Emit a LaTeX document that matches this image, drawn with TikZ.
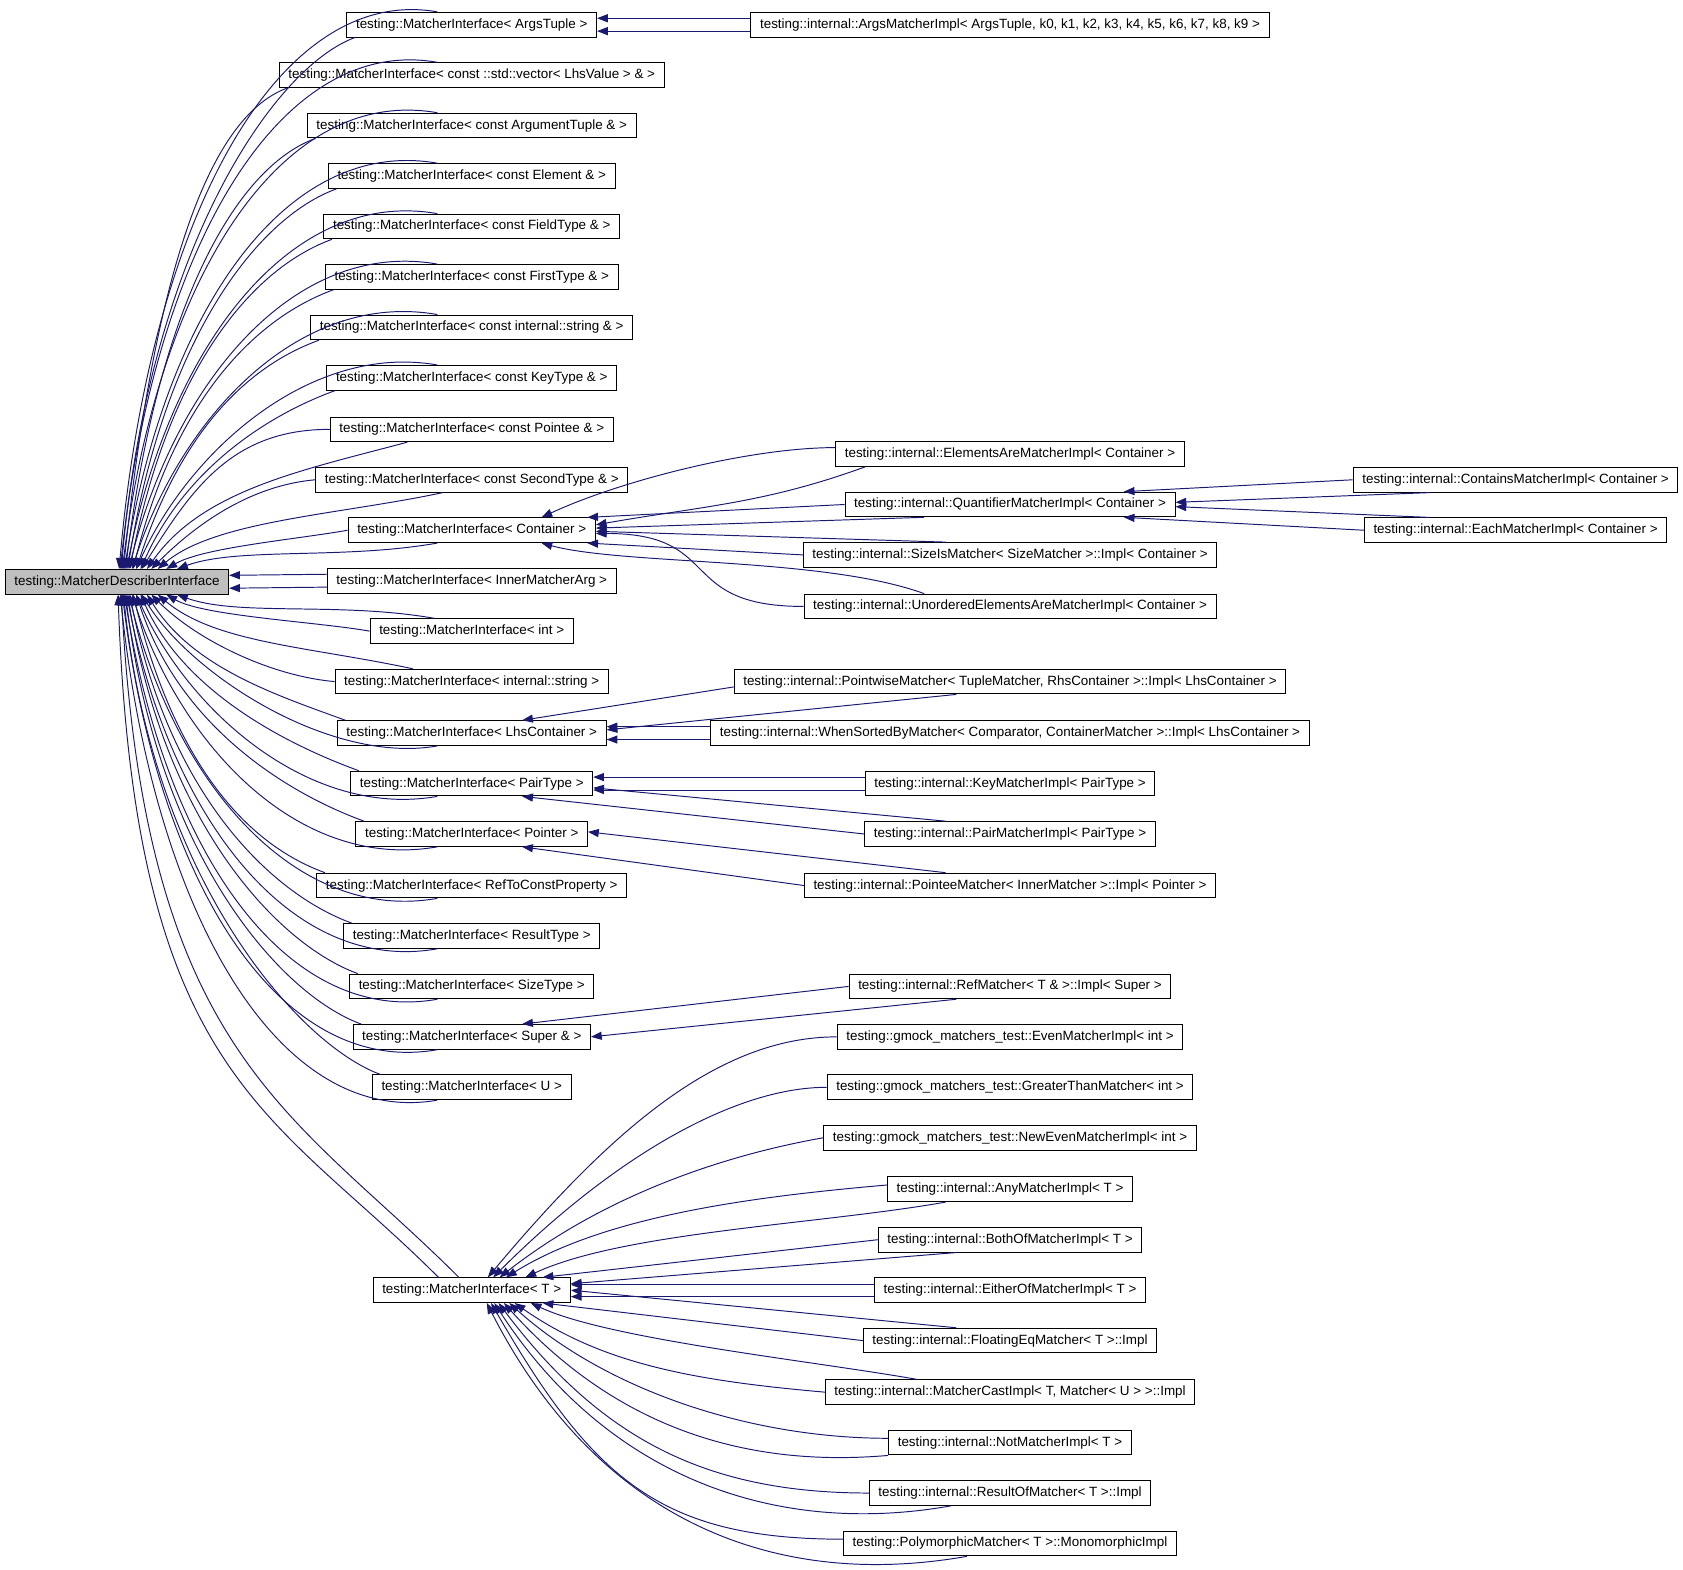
\documentclass[tikz,border=0pt]{standalone}
\usepackage{fontspec}
\setmainfont{Liberation Sans}
\usetikzlibrary{arrows.meta}
\definecolor{edgeblue}{RGB}{25,25,112}
\definecolor{basegray}{RGB}{191,191,191}

\begin{document}
\begin{tikzpicture}[
  x = 1pt, y = -1pt,
  cls/.style = {
    shape = rectangle,
    draw = black,
    line width = 0.9pt,
    fill = white,
    minimum height = 23pt,
    inner xsep = 8.5pt,
    inner ysep = 2pt,
    text height = 9pt,
    text depth = 2.5pt,
    font = \fontsize{12.5pt}{15pt}\selectfont
  },
  base/.style = {
    cls,
    fill = basegray
  },
  inh/.style = {
    draw = edgeblue,
    line width = 0.9pt,
    -{Triangle[length = 10pt, width = 7.5pt]}
  }
]
  \useasboundingbox (0, 0) rectangle (1568, 1462);

  \node[base] (describer) at (109, 542) {testing::MatcherDescriberInterface};

  % interfaces
  \node[cls] (argstuple) at (439.5, 23) {testing::MatcherInterface< ArgsTuple >};
  \node[cls] (vectorlhs) at (439.5, 70) {testing::MatcherInterface< const ::std::vector< LhsValue > \& >};
  \node[cls] (argtuple) at (439.5, 117) {testing::MatcherInterface< const ArgumentTuple \& >};
  \node[cls] (element) at (439.5, 164) {testing::MatcherInterface< const Element \& >};
  \node[cls] (fieldtype) at (439.5, 211) {testing::MatcherInterface< const FieldType \& >};
  \node[cls] (firsttype) at (439.5, 258) {testing::MatcherInterface< const FirstType \& >};
  \node[cls] (cstring) at (439.5, 305) {testing::MatcherInterface< const internal::string \& >};
  \node[cls] (keytype) at (439.5, 352) {testing::MatcherInterface< const KeyType \& >};
  \node[cls] (pointee) at (439.5, 400) {testing::MatcherInterface< const Pointee \& >};
  \node[cls] (secondtype) at (439.5, 447) {testing::MatcherInterface< const SecondType \& >};
  \node[cls] (container) at (439.5, 494) {testing::MatcherInterface< Container >};
  \node[cls] (innerarg) at (439.5, 541) {testing::MatcherInterface< InnerMatcherArg >};
  \node[cls] (intiface) at (439.5, 588) {testing::MatcherInterface< int >};
  \node[cls] (string) at (439.5, 635) {testing::MatcherInterface< internal::string >};
  \node[cls] (lhscont) at (439.5, 683) {testing::MatcherInterface< LhsContainer >};
  \node[cls] (pairtype) at (439.5, 730) {testing::MatcherInterface< PairType >};
  \node[cls] (pointer) at (439.5, 777) {testing::MatcherInterface< Pointer >};
  \node[cls] (refprop) at (439.5, 825) {testing::MatcherInterface< RefToConstProperty >};
  \node[cls] (resulttype) at (439.5, 872) {testing::MatcherInterface< ResultType >};
  \node[cls] (sizetype) at (439.5, 919) {testing::MatcherInterface< SizeType >};
  \node[cls] (super) at (439.5, 966) {testing::MatcherInterface< Super \& >};
  \node[cls] (uiface) at (439.5, 1013) {testing::MatcherInterface< U >};
  \node[cls] (tiface) at (439.5, 1202) {testing::MatcherInterface< T >};

  % implementations
  \node[cls] (argsimpl) at (941, 23) {testing::internal::ArgsMatcherImpl< ArgsTuple, k0, k1, k2, k3, k4, k5, k6, k7, k8, k9 >};
  \node[cls] (elemsare) at (941, 423) {testing::internal::ElementsAreMatcherImpl< Container >};
  \node[cls] (quantifier) at (941, 470) {testing::internal::QuantifierMatcherImpl< Container >};
  \node[cls] (sizeis) at (941, 517) {testing::internal::SizeIsMatcher< SizeMatcher >::Impl< Container >};
  \node[cls] (unordered) at (941, 565) {testing::internal::UnorderedElementsAreMatcherImpl< Container >};
  \node[cls] (pointwise) at (941, 635) {testing::internal::PointwiseMatcher< TupleMatcher, RhsContainer >::Impl< LhsContainer >};
  \node[cls] (whensorted) at (941, 683) {testing::internal::WhenSortedByMatcher< Comparator, ContainerMatcher >::Impl< LhsContainer >};
  \node[cls] (keyimpl) at (941, 730) {testing::internal::KeyMatcherImpl< PairType >};
  \node[cls] (pairimpl) at (941, 777) {testing::internal::PairMatcherImpl< PairType >};
  \node[cls] (pointeeimpl) at (941, 825) {testing::internal::PointeeMatcher< InnerMatcher >::Impl< Pointer >};
  \node[cls] (refmatcher) at (941, 919) {testing::internal::RefMatcher< T \& >::Impl< Super >};
  \node[cls] (evenimpl) at (941, 966) {testing::gmock\_matchers\_test::EvenMatcherImpl< int >};
  \node[cls] (greater) at (941, 1013) {testing::gmock\_matchers\_test::GreaterThanMatcher< int >};
  \node[cls] (neweven) at (941, 1060) {testing::gmock\_matchers\_test::NewEvenMatcherImpl< int >};
  \node[cls] (anyimpl) at (941, 1108) {testing::internal::AnyMatcherImpl< T >};
  \node[cls] (bothof) at (941, 1155) {testing::internal::BothOfMatcherImpl< T >};
  \node[cls] (eitherof) at (941, 1202) {testing::internal::EitherOfMatcherImpl< T >};
  \node[cls] (floateq) at (941, 1249) {testing::internal::FloatingEqMatcher< T >::Impl};
  \node[cls] (castimpl) at (941, 1297) {testing::internal::MatcherCastImpl< T, Matcher< U > >::Impl};
  \node[cls] (notimpl) at (941, 1344) {testing::internal::NotMatcherImpl< T >};
  \node[cls] (resultof) at (941, 1391) {testing::internal::ResultOfMatcher< T >::Impl};
  \node[cls] (monoimpl) at (941, 1438) {testing::PolymorphicMatcher< T >::MonomorphicImpl};
  \node[cls] (containsimpl) at (1412, 447) {testing::internal::ContainsMatcherImpl< Container >};
  \node[cls] (eachimpl) at (1412, 494) {testing::internal::EachMatcherImpl< Container >};

  % interfaces -> describer, above
  \draw[inh] ([xshift=-32pt]argstuple.north) to[out=170, in=85, out distance=150pt, in distance=330pt] ([xshift=2pt]describer.north);
  \draw[inh] ([xshift=8pt]argstuple.south west) to[out=200, in=85, out distance=80pt, in distance=300pt] ([xshift=4pt]describer.north);
  \draw[inh] ([xshift=-32pt]vectorlhs.north) to[out=170, in=84, out distance=150pt, in distance=300pt] ([xshift=3pt]describer.north);
  \draw[inh] ([xshift=8pt]vectorlhs.south west) to[out=200, in=84, out distance=80pt, in distance=270pt] ([xshift=6pt]describer.north);
  \draw[inh] ([xshift=-32pt]argtuple.north) to[out=170, in=83, out distance=150pt, in distance=270pt] ([xshift=5pt]describer.north);
  \draw[inh] ([xshift=8pt]argtuple.south west) to[out=200, in=83, out distance=80pt, in distance=245pt] ([xshift=8pt]describer.north);
  \draw[inh] ([xshift=-32pt]element.north) to[out=170, in=81, out distance=145pt, in distance=240pt] ([xshift=7pt]describer.north);
  \draw[inh] ([xshift=8pt]element.south west) to[out=200, in=81, out distance=80pt, in distance=215pt] ([xshift=10pt]describer.north);
  \draw[inh] ([xshift=-32pt]fieldtype.north) to[out=170, in=79, out distance=140pt, in distance=210pt] ([xshift=9pt]describer.north);
  \draw[inh] ([xshift=8pt]fieldtype.south west) to[out=200, in=79, out distance=80pt, in distance=190pt] ([xshift=12pt]describer.north);
  \draw[inh] ([xshift=-32pt]firsttype.north) to[out=170, in=76, out distance=135pt, in distance=180pt] ([xshift=11pt]describer.north);
  \draw[inh] ([xshift=8pt]firsttype.south west) to[out=200, in=76, out distance=80pt, in distance=160pt] ([xshift=15pt]describer.north);
  \draw[inh] ([xshift=-32pt]cstring.north) to[out=170, in=72, out distance=130pt, in distance=150pt] ([xshift=14pt]describer.north);
  \draw[inh] ([xshift=8pt]cstring.south west) to[out=200, in=72, out distance=75pt, in distance=130pt] ([xshift=18pt]describer.north);
  \draw[inh] ([xshift=-32pt]keytype.north) to[out=170, in=66, out distance=120pt, in distance=120pt] ([xshift=18pt]describer.north);
  \draw[inh] ([xshift=8pt]keytype.south west) to[out=200, in=66, out distance=70pt, in distance=100pt] ([xshift=22pt]describer.north);
  \draw[inh] (pointee.west) to[out=180, in=58, out distance=90pt, in distance=90pt] ([xshift=23pt]describer.north);
  \draw[inh] ([xshift=-60pt]pointee.south) to[out=195, in=55, out distance=100pt, in distance=90pt] ([xshift=28pt]describer.north);
  \draw[inh] (secondtype.west) to[out=185, in=45, out distance=60pt, in distance=60pt] ([xshift=32pt]describer.north);
  \draw[inh] ([xshift=-27pt]secondtype.south) to[out=192, in=40, out distance=100pt, in distance=70pt] ([xshift=38pt]describer.north);
  \draw[inh] (container.west) to[out=190, in=30, out distance=50pt, in distance=40pt] ([xshift=46pt]describer.north);
  \draw[inh] ([xshift=-32pt]container.south) to[out=190, in=20, out distance=90pt, in distance=60pt] ([xshift=56pt]describer.north);
  \draw[inh] ([yshift=6pt]innerarg.west) -- ([yshift=6pt]describer.east);
  \draw[inh] ([yshift=-6pt]innerarg.west) -- ([yshift=-6pt]describer.east);

  % interfaces -> describer, below
  \draw[inh] (intiface.west) to[out=170, in=-30, out distance=50pt, in distance=40pt] ([xshift=46pt]describer.south);
  \draw[inh] ([xshift=-35pt]intiface.north) to[out=170, in=-20, out distance=90pt, in distance=60pt] ([xshift=56pt]describer.south);
  \draw[inh] (string.west) to[out=175, in=-45, out distance=60pt, in distance=60pt] ([xshift=32pt]describer.south);
  \draw[inh] ([xshift=-55pt]string.north) to[out=168, in=-40, out distance=100pt, in distance=70pt] ([xshift=38pt]describer.south);
  \draw[inh] ([xshift=-32pt]lhscont.south) to[out=190, in=-58, out distance=100pt, in distance=90pt] ([xshift=23pt]describer.south);
  \draw[inh] ([xshift=8pt]lhscont.north west) to[out=160, in=-58, out distance=70pt, in distance=80pt] ([xshift=28pt]describer.south);
  \draw[inh] ([xshift=-32pt]pairtype.south) to[out=190, in=-66, out distance=120pt, in distance=120pt] ([xshift=18pt]describer.south);
  \draw[inh] ([xshift=8pt]pairtype.north west) to[out=160, in=-66, out distance=70pt, in distance=100pt] ([xshift=22pt]describer.south);
  \draw[inh] ([xshift=-32pt]pointer.south) to[out=190, in=-72, out distance=130pt, in distance=150pt] ([xshift=14pt]describer.south);
  \draw[inh] ([xshift=8pt]pointer.north west) to[out=160, in=-72, out distance=75pt, in distance=130pt] ([xshift=18pt]describer.south);
  \draw[inh] ([xshift=-32pt]refprop.south) to[out=190, in=-76, out distance=135pt, in distance=180pt] ([xshift=11pt]describer.south);
  \draw[inh] ([xshift=8pt]refprop.north west) to[out=160, in=-76, out distance=80pt, in distance=160pt] ([xshift=15pt]describer.south);
  \draw[inh] ([xshift=-32pt]resulttype.south) to[out=190, in=-79, out distance=140pt, in distance=210pt] ([xshift=9pt]describer.south);
  \draw[inh] ([xshift=8pt]resulttype.north west) to[out=160, in=-79, out distance=80pt, in distance=190pt] ([xshift=12pt]describer.south);
  \draw[inh] ([xshift=-32pt]sizetype.south) to[out=190, in=-81, out distance=145pt, in distance=240pt] ([xshift=7pt]describer.south);
  \draw[inh] ([xshift=8pt]sizetype.north west) to[out=160, in=-81, out distance=80pt, in distance=215pt] ([xshift=10pt]describer.south);
  \draw[inh] ([xshift=-32pt]super.south) to[out=190, in=-83, out distance=150pt, in distance=270pt] ([xshift=5pt]describer.south);
  \draw[inh] ([xshift=8pt]super.north west) to[out=160, in=-83, out distance=80pt, in distance=245pt] ([xshift=8pt]describer.south);
  \draw[inh] ([xshift=-32pt]uiface.south) to[out=190, in=-84, out distance=150pt, in distance=300pt] ([xshift=3pt]describer.south);
  \draw[inh] ([xshift=8pt]uiface.north west) to[out=160, in=-84, out distance=80pt, in distance=270pt] ([xshift=6pt]describer.south);
  \draw[inh] ([xshift=-31pt]tiface.north) to[out=135, in=-88, out distance=220pt, in distance=450pt] ([xshift=1pt]describer.south);
  \draw[inh] ([xshift=-12pt]tiface.north) to[out=135, in=-87, out distance=220pt, in distance=430pt] ([xshift=4pt]describer.south);

  % implementations -> interfaces
  \draw[inh] ([yshift=6pt]argsimpl.west) -- ([yshift=6pt]argstuple.east);
  \draw[inh] ([yshift=-6pt]argsimpl.west) -- ([yshift=-6pt]argstuple.east);

  \draw[inh] ([yshift=6pt]elemsare.west) to[out=180, in=25, out distance=80pt, in distance=80pt] ([xshift=65pt]container.north);
  \draw[inh] ([xshift=-135pt]elemsare.south) to[out=200, in=10, out distance=100pt, in distance=100pt] ([yshift=5pt]container.east);
  \draw[inh] (quantifier.west) -- ([xshift=-8pt]container.north east);
  \draw[inh] ([xshift=-80pt]quantifier.south) -- ([yshift=2pt]container.east);
  \draw[inh] ([xshift=-60pt]sizeis.north) -- ([yshift=-1pt]container.east);
  \draw[inh] (sizeis.west) -- ([xshift=-8pt]container.south east);
  \draw[inh] (unordered.west) to[out=180, in=0, out distance=120pt, in distance=120pt] ([yshift=-3pt]container.east);
  \draw[inh] ([xshift=-80pt]unordered.north) to[out=160, in=-15, out distance=100pt, in distance=80pt] ([xshift=65pt]container.south);

  \draw[inh] (containsimpl.west) -- ([xshift=106pt]quantifier.north);
  \draw[inh] ([xshift=-80pt]containsimpl.south) -- ([yshift=2pt]quantifier.east);
  \draw[inh] ([xshift=-80pt]eachimpl.north) -- ([yshift=-2pt]quantifier.east);
  \draw[inh] (eachimpl.west) -- ([xshift=106pt]quantifier.south);

  \draw[inh] ([yshift=-5pt]pointwise.west) -- ([xshift=47pt]lhscont.north);
  \draw[inh] ([xshift=-50pt]pointwise.south) -- ([yshift=3pt]lhscont.east);
  \draw[inh] ([yshift=6pt]whensorted.west) -- ([yshift=6pt]lhscont.east);
  \draw[inh] ([yshift=-6pt]whensorted.west) -- ([yshift=-6pt]lhscont.east);

  \draw[inh] ([yshift=6pt]keyimpl.west) -- ([yshift=6pt]pairtype.east);
  \draw[inh] ([yshift=-6pt]keyimpl.west) -- ([yshift=-6pt]pairtype.east);
  \draw[inh] ([xshift=-60pt]pairimpl.north) -- ([yshift=-4pt]pairtype.east);
  \draw[inh] (pairimpl.west) -- ([xshift=47pt]pairtype.south);

  \draw[inh] ([xshift=-60pt]pointeeimpl.north) -- ([yshift=2pt]pointer.east);
  \draw[inh] (pointeeimpl.west) -- ([xshift=47pt]pointer.south);

  \draw[inh] (refmatcher.west) -- ([xshift=47pt]super.north);
  \draw[inh] ([xshift=-50pt]refmatcher.south) -- (super.east);

  % implementations -> T
  \draw[inh] (evenimpl.west) to[out=180, in=50, out distance=110pt, in distance=180pt] ([xshift=15pt]tiface.north);
  \draw[inh] (greater.west) to[out=180, in=45, out distance=90pt, in distance=150pt] ([xshift=20pt]tiface.north);
  \draw[inh] (neweven.west) to[out=190, in=38, out distance=100pt, in distance=120pt] ([xshift=26pt]tiface.north);
  \draw[inh] ([yshift=4pt]anyimpl.west) to[out=185, in=32, out distance=120pt, in distance=110pt] ([xshift=32pt]tiface.north);
  \draw[inh] ([xshift=-60pt]anyimpl.south) to[out=190, in=25, out distance=120pt, in distance=100pt] ([xshift=50pt]tiface.north);
  \draw[inh] (bothof.west) -- ([xshift=66pt]tiface.north);
  \draw[inh] ([xshift=-50pt]bothof.south) -- ([yshift=6pt]tiface.east);
  \draw[inh] ([yshift=5pt]eitherof.west) -- ([yshift=5pt]tiface.east);
  \draw[inh] ([yshift=-6pt]eitherof.west) -- ([yshift=-6pt]tiface.east);
  \draw[inh] ([xshift=-50pt]floateq.north) -- (tiface.east);
  \draw[inh] (floateq.west) -- ([xshift=66pt]tiface.south);
  \draw[inh] ([xshift=-87pt]castimpl.north) to[out=170, in=-25, out distance=100pt, in distance=80pt] ([xshift=55pt]tiface.south);
  \draw[inh] (castimpl.west) to[out=175, in=-35, out distance=120pt, in distance=100pt] ([xshift=40pt]tiface.south);
  \draw[inh] ([yshift=4pt]notimpl.west) to[out=180, in=-42, out distance=130pt, in distance=120pt] ([xshift=35pt]tiface.south);
  \draw[inh] (notimpl.south west) to[out=185, in=-48, out distance=150pt, in distance=140pt] ([xshift=30pt]tiface.south);
  \draw[inh] (resultof.west) to[out=180, in=-53, out distance=150pt, in distance=160pt] ([xshift=25pt]tiface.south);
  \draw[inh] ([xshift=-55pt]resultof.south) to[out=190, in=-57, out distance=170pt, in distance=190pt] ([xshift=21pt]tiface.south);
  \draw[inh] ([yshift=4pt]monoimpl.west) to[out=180, in=-60, out distance=170pt, in distance=190pt] ([xshift=18pt]tiface.south);
  \draw[inh] ([xshift=-40pt]monoimpl.south) to[out=190, in=-63, out distance=190pt, in distance=220pt] ([xshift=14pt]tiface.south);
\end{tikzpicture}
\end{document}
